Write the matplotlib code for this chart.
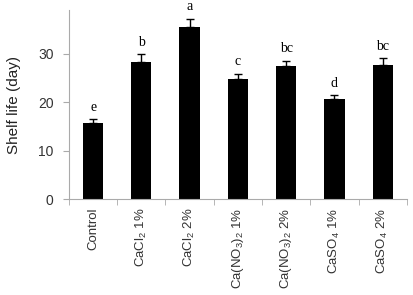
import matplotlib
matplotlib.use("Agg")
import matplotlib.pyplot as plt
import numpy as np

plt.rcParams['font.family'] = ['Liberation Sans', 'DejaVu Sans']
plt.rcParams['mathtext.default'] = 'regular'

# data
treatments = ['Control', 'CaCl$_2$ 1%', 'CaCl$_2$ 2%', 'Ca(NO$_3$)$_2$ 1%',
              'Ca(NO$_3$)$_2$ 2%', 'CaSO$_4$ 1%', 'CaSO$_4$ 2%']
shelf_life = [15.8, 28.4, 35.5, 24.7, 27.4, 20.6, 27.7]
sem = [0.7, 1.5, 1.7, 1.2, 1.2, 0.8, 1.4]
letters = ['e', 'b', 'a', 'c', 'bc', 'd', 'bc']

fig = plt.figure(figsize=(4.13, 2.95), dpi=100)
ax = fig.add_axes([0.167, 0.324, 0.818, 0.642])

x = np.arange(len(treatments))
ax.bar(x, shelf_life, width=0.42, color='black', zorder=2)
ax.errorbar(x, shelf_life, yerr=[np.zeros(len(sem)), sem], fmt='none',
            ecolor='black', elinewidth=1.0, capsize=3, capthick=1.0, zorder=3)

for xi, v, e, lab in zip(x, shelf_life, sem, letters):
    ax.annotate(lab, (xi, v + e), xytext=(0, 4), textcoords='offset points',
                ha='center', va='bottom', fontsize=10, family='Liberation Serif')

ax.set_xlim(-0.5, len(treatments) - 0.5)
ax.set_ylim(0, 39)
ax.set_yticks([0, 10, 20, 30])

ax.set_xticks(x)
ax.set_xticklabels(treatments, rotation=90, fontsize=9.5, color='#333333')
ax.tick_params(axis='x', which='major', length=0, pad=6)
ax.set_xticks(np.arange(-0.5, len(treatments), 1), minor=True)
ax.tick_params(axis='x', which='minor', length=4, color='#aaaaaa', direction='out')
ax.tick_params(axis='y', labelsize=10, colors='#333333', length=4, color='#aaaaaa',
               pad=7)
for t in ax.get_yticklabels():
    t.set_color('#333333')

ax.set_ylabel('Shelf life (day)', fontsize=11, color='#222222', labelpad=12)

for side in ['top', 'right']:
    ax.spines[side].set_visible(False)
for side in ['left', 'bottom']:
    ax.spines[side].set_color('#aaaaaa')
    ax.spines[side].set_linewidth(0.8)

fig.savefig('out.png', dpi=100)
